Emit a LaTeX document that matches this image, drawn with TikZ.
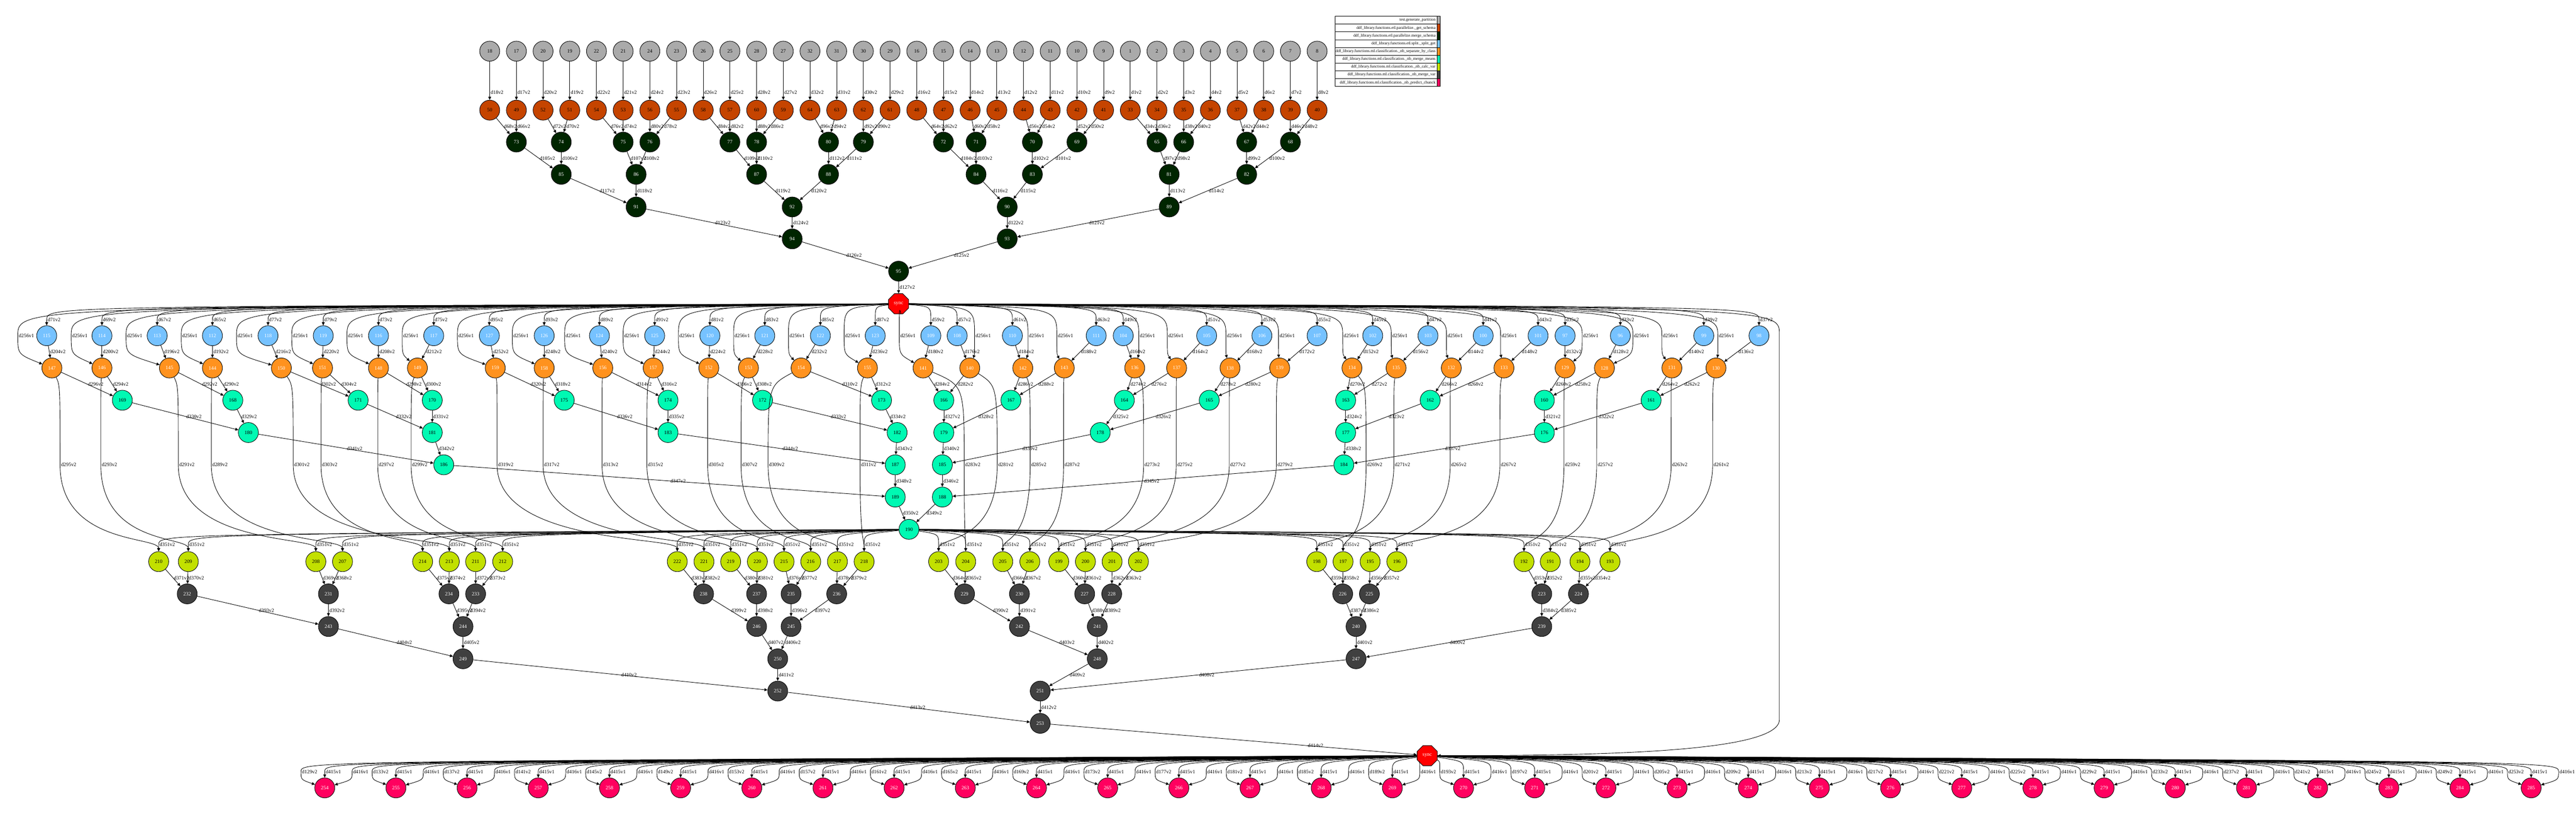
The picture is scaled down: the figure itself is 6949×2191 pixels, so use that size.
\documentclass[tikz,border=0pt]{standalone}
\usepackage{fontspec}
\setmainfont{Liberation Serif}
\usepackage{xcolor}
\usetikzlibrary{arrows.meta,shapes.geometric}
\definecolor{gencol}{HTML}{AAAAAA}
\definecolor{schemacol}{HTML}{C54400}
\definecolor{mergecol}{HTML}{002500}
\definecolor{splitcol}{HTML}{76C2FF}
\definecolor{sepcol}{HTML}{FF921E}
\definecolor{meancol}{HTML}{00F9B3}
\definecolor{varcol}{HTML}{C2E000}
\definecolor{mvarcol}{HTML}{404040}
\definecolor{predcol}{HTML}{FF005F}
\tikzset{
  task/.style={circle,draw,line width=0.35pt,minimum size=0.54cm,inner sep=0pt,font=\fontsize{3.9}{4.6}\selectfont},
  gennode/.style={task,fill=gencol},
  schemanode/.style={task,fill=schemacol},
  mergenode/.style={task,fill=mergecol,text=white},
  splitnode/.style={task,fill=splitcol,text=white},
  sepnode/.style={task,fill=sepcol,text=white},
  meannode/.style={task,fill=meancol},
  varnode/.style={task,fill=varcol},
  mvarnode/.style={task,fill=mvarcol,text=white},
  prednode/.style={task,fill=predcol,text=white},
  syncnode/.style={regular polygon,regular polygon sides=8,draw,line width=0.35pt,fill=red,text=white,minimum size=0.59cm,inner sep=0pt,font=\fontsize{3.9}{4.6}\selectfont},
  lbl/.style={font=\fontsize{3.9}{4.6}\selectfont,inner sep=0.6pt,anchor=west},
  legtext/.style={font=\fontsize{3.1}{3.7}\selectfont,inner sep=0pt,anchor=east},
  conn/.style={line width=0.35pt,-{Triangle[length=2.4pt,width=2.2pt]}}
}
\def\cols{115/126/140/48/162/428,114/275/275/192/272/508,113/424/457/340/481/852,112/573/573/489/570/924,
118/723/759/638/791/1212,119/872/870/787/866/1140,116/1021/1021/936/1019/1283,117/1170/1126/1085/1109/1356,
127/1320/1336/1234/1341/1827,126/1468/1468/1382/1465/1899,124/1617/1626/1523/1624/1971,125/1766/1762/1681/1745/2043,
120/1915/1912/1830/1909/2115,121/2063/2019/1979/1999/2187,122/2213/2161/2127/2072/2259,123/2361/2340/2277/2320/2331,
109/2511/2490/2426/2601/2605,108/2582/2616/2629/2690/2532,110/2731/2759/2773/2779/2705,111/2957/2871/2851/2869/2778,
104/3030/3061/3072/3085/2856,105/3255/3174/3149/3173/2928,106/3404/3318/3307/3316/3000,107/3553/3452/3449/3443/3071,
102/3703/3647/3622/3685/3623,103/3852/3766/3753/3760/3552,100/4001/3915/3902/3912/3696,101/4149/4057/4048/4046/3768,
97/4222/4222/4268/4219/4111,96/4371/4328/4405/4307/4182,99/4596/4510/4483/4508/4262,98/4745/4629/4634/4620/4343}
\begin{document}
\begin{tikzpicture}[x=0.01cm,y=-0.01cm]
\useasboundingbox (0,0) rectangle (6949,2191);
% partitions and schemas
\foreach \gn/\x in {18/1321,17/1393,20/1465,19/1537,22/1609,21/1681,24/1753,23/1825,26/1897,25/1969,28/2041,27/2113,32/2185,31/2257,30/2329,29/2401,16/2473,15/2545,14/2617,13/2689,12/2761,11/2833,10/2905,9/2977,1/3049,2/3121,3/3193,4/3265,5/3337,6/3409,7/3481,8/3553}{
  \pgfmathtruncatemacro\on{\gn+32}
  \node[gennode] (n\gn) at (\x,138) {\gn};
  \node[schemanode] (n\on) at (\x,297) {\on};
  \draw[conn] (n\gn) -- (n\on) node[lbl,pos=0.8]{d\gn v2};
}
\foreach \nn/\x/\y in {65/3121/383,66/3193/383,67/3363/383,68/3481/383,69/2905/383,70/2785/383,71/2633/383,72/2545/383,73/1393/383,74/1514/383,75/1681/383,76/1753/383,77/1969/383,78/2041/383,79/2329/383,80/2235/383,
81/3154/470,82/3363/470,83/2785/470,84/2633/470,85/1514/470,86/1716/470,87/2041/470,88/2235/470,
89/3154/558,90/2717/558,91/1716/558,92/2137/558,93/2717/644,94/2137/644,95/2424/731}
  \node[mergenode] (n\nn) at (\x,\y) {\nn};
\foreach \jn in {65,...,95}{
  \foreach \kk in {0,1}{
    \pgfmathtruncatemacro\ch{2*\jn-97+\kk}
    \pgfmathtruncatemacro\lab{\ch<65 ? 2*\ch-32 : \ch+32}
    \draw[conn] (n\ch) -- (n\jn) node[lbl,midway]{d\lab v2};
  }
}
\node[syncnode] (sync) at (2424,819) {sync};
\draw[conn] (n95) -- (sync) node[lbl,midway]{d127v2};
% naive bayes
\foreach \bn/\xb/\xo/\xd/\xv/\xy in \cols{
  \pgfmathtruncatemacro\on{\bn+32}
  \pgfmathtruncatemacro\yn{\bn+95}
  \node[splitnode] (n\bn) at (\xb,905) {\bn};
  \node[sepnode] (n\on) at (\xo,992) {\on};
  \node[varnode] (n\yn) at (\xy,1514) {\yn};
}
\foreach \nn/\x/\y in {160/4166/1079,161/4454/1079,162/3858/1079,163/3630/1079,164/3033/1079,165/3262/1079,166/2546/1079,167/2727/1079,168/628/1079,169/330/1079,170/1166/1079,171/966/1079,172/2057/1079,173/2378/1079,174/1802/1079,175/1522/1079,
176/4166/1166,177/3630/1166,178/2968/1166,179/2546/1166,180/670/1166,181/1166/1166,182/2420/1166,183/1802/1166,
184/3625/1253,185/2542/1253,186/1197/1253,187/2415/1253,188/2542/1340,189/2415/1340,190/2452/1427}
  \node[meannode] (n\nn) at (\x,\y) {\nn};
\foreach \nn/\x/\y in {223/4159/1601,224/4258/1601,225/3694/1601,226/3622/1601,227/2926/1601,228/2999/1601,229/2602/1601,230/2750/1601,231/886/1601,232/505/1601,233/1283/1601,234/1211/1601,235/2134/1601,236/2257/1601,237/2041/1601,238/1898/1601,
239/4159/1689,240/3658/1689,241/2960/1689,242/2750/1689,243/886/1689,244/1249/1689,245/2134/1689,246/2041/1689,
247/3658/1776,248/2960/1776,249/1249/1776,250/2098/1776,251/2806/1863,252/2098/1863,253/2806/1950}
  \node[mvarnode] (n\nn) at (\x,\y) {\nn};
\node[syncnode] (syncb) at (3850,2037) {sync};
\foreach \bn/\xb/\xo/\xd/\xv/\xy in \cols{
  \pgfmathtruncatemacro\on{\bn+32}
  \pgfmathtruncatemacro\yn{\bn+95}
  \pgfmathtruncatemacro\la{2*\bn-159}
  \pgfmathtruncatemacro\lb{4*\bn-256}
  \pgfmathtruncatemacro\lc{2*\on+1}
  \draw[conn] (sync) .. controls (\xb,826) .. (\xb,862) node[lbl]{d\la v2} -- (n\bn);
  \draw[conn] (sync) .. controls (\xd,828) .. (\xd,905) node[lbl]{d256v1} .. controls (\xd,955) .. (n\on);
  \draw[conn] (n\bn) -- (n\on) node[lbl,midway]{d\lb v2};
  \draw[conn] (n\on) .. controls (\xv,1040) .. (\xv,1253) node[lbl]{d\lc v2} .. controls (\xv,1470) and (\xy,1445) .. (n\yn);
  \draw[conn] (n190) .. controls (\xy,1440) .. (\xy,1468) node[lbl]{d351v2} -- (n\yn);
}
\foreach \jn in {160,...,190}{
  \foreach \kk in {0,1}{
    \pgfmathtruncatemacro\ch{2*\jn-192+\kk}
    \pgfmathtruncatemacro\lab{\ch<160 ? 2*\ch+2 : \ch+161}
    \draw[conn] (n\ch) -- (n\jn) node[lbl,midway]{d\lab v2};
  }
}
\foreach \jn in {223,...,253}{
  \foreach \kk in {0,1}{
    \pgfmathtruncatemacro\ch{2*\jn-255+\kk}
    \pgfmathtruncatemacro\lab{\ch+161}
    \draw[conn] (n\ch) -- (n\jn) node[lbl,midway]{d\lab v2};
  }
}
\draw[conn] (n253) -- (syncb) node[lbl,pos=0.7]{d414v2};
\draw[conn] (sync) .. controls (4800,828) .. (4800,900) -- (4800,1940) .. controls (4800,2030) and (4300,2037) .. (syncb);
% predictions
\foreach \ii in {0,...,31}{
  \pgfmathtruncatemacro\kn{254+\ii}
  \pgfmathtruncatemacro\px{876+192*\ii}
  \pgfmathtruncatemacro\lab{129+4*\ii}
  \node[prednode] (n\kn) at (\px,2124) {\kn};
  \draw[conn] (syncb) .. controls (\px-64,2052) .. (\px-64,2080) node[lbl]{d\lab v2} .. controls (\px-64,2102) .. (n\kn);
  \draw[conn] (syncb) .. controls (\px,2052) .. (\px,2080) node[lbl]{d415v1} -- (n\kn);
  \draw[conn] (syncb) .. controls (\px+74,2052) .. (\px+74,2080) node[lbl]{d416v1} .. controls (\px+74,2102) .. (n\kn);
}
% legend
\foreach \ii/\cl/\txt in {0/gencol/test.generate\_partition,
1/schemacol/ddf\_library.functions.etl.parallelize.\_get\_schema,
2/mergecol/ddf\_library.functions.etl.parallelize.merge\_schema,
3/splitcol/ddf\_library.functions.etl.split.\_split\_get,
4/sepcol/ddf\_library.functions.ml.classification.\_nb\_separate\_by\_class,
5/meancol/ddf\_library.functions.ml.classification.\_nb\_merge\_means,
6/varcol/ddf\_library.functions.ml.classification.\_nb\_calc\_var,
7/mvarcol/ddf\_library.functions.ml.classification.\_nb\_merge\_var,
8/predcol/ddf\_library.functions.ml.classification.\_nb\_predict\_chunck}{
  \draw[line width=0.35pt] (3601,44+21*\ii) rectangle (3877,65+21*\ii);
  \draw[line width=0.35pt,fill=\cl] (3877,44+21*\ii) rectangle (3885,65+21*\ii);
  \node[legtext] (leg\ii) at (3873,54.5+21*\ii) {\txt};
}
\end{tikzpicture}
\end{document}
